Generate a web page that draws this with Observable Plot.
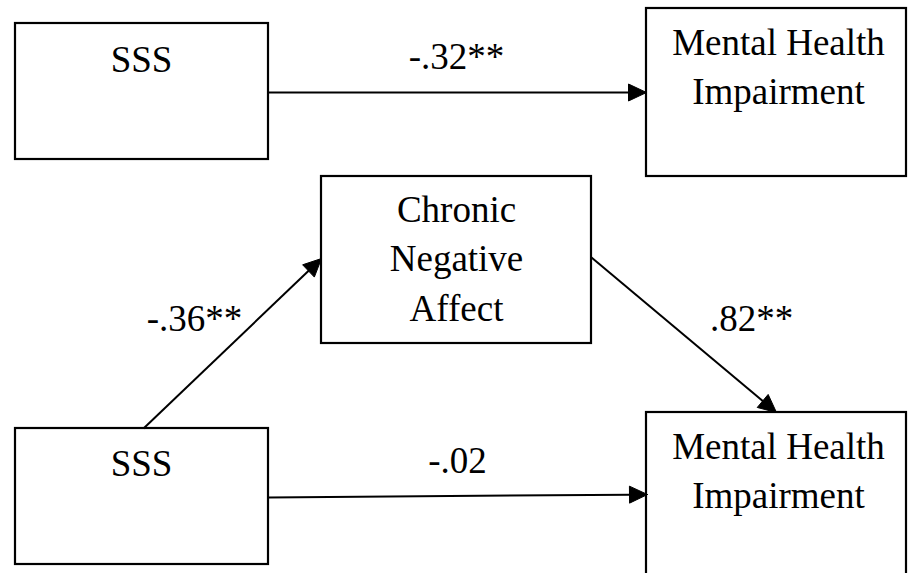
<!DOCTYPE html>
<html>
<head>
<meta charset="utf-8">
<script src="https://cdn.jsdelivr.net/npm/d3@7"></script>
<script src="https://cdn.jsdelivr.net/npm/@observablehq/plot@0.6"></script>
<style>
  html, body { margin: 0; padding: 0; background: #fff; overflow: hidden; }
  #chart svg { display: block; }
  #chart svg text, #chart svg tspan { font-family: "Liberation Serif", "Times New Roman", Tinos, "Nimbus Roman", "Nimbus Roman No9 L", FreeSerif, "Noto Serif", "DejaVu Serif", Times, serif !important; }
</style>
</head>
<body>
<div id="chart"></div>
<script>
// ---- Data ----
const nodeLabels = ["SSS", "Mental Health\nImpairment", "Chronic\nNegative\nAffect", "SSS", "Mental Health\nImpairment"];
const pathFrom = [0, 3, 2, 3];
const pathTo = [1, 2, 4, 4];
const coefficients = ["-.32**", "-.36**", ".82**", "-.02"];

// ---- Layout (pixel frame) ----
const boxLayout = [
  {x1: 15, x2: 268, y1: 23, y2: 159, tx: 141, ty: 36},
  {x1: 646, x2: 906, y1: 8, y2: 176, tx: 778, ty: 19},
  {x1: 321, x2: 591, y1: 176, y2: 343, tx: 456, ty: 186},
  {x1: 15, x2: 268, y1: 428, y2: 564, tx: 141, ty: 440},
  {x1: 646, x2: 906, y1: 412, y2: 590, tx: 778, ty: 423}
];
const edgeLayout = [
  {xa: 268, ya: 92, xb: 646, yb: 92, lx: 456, ly: 68},
  {xa: 143, ya: 428, xb: 321, yb: 258, lx: 194, ly: 330},
  {xa: 591, ya: 257, xb: 776, yb: 412, lx: 751, ly: 330},
  {xa: 268, ya: 497, xb: 647, yb: 494, lx: 457, ly: 472}
];

const boxes = nodeLabels.map((label, i) => ({label, ...boxLayout[i]}));
const edges = coefficients.map((coef, i) => ({coef, from: pathFrom[i], to: pathTo[i], ...edgeLayout[i]}));

// arrowheads derived from edge endpoints
const headLen = 18, headHalf = 8.5;
const heads = [];
const shafts = [];
edges.forEach((e, i) => {
  const dx = e.xb - e.xa, dy = e.yb - e.ya;
  const len = Math.hypot(dx, dy);
  const ux = dx / len, uy = dy / len;
  const bx = e.xb - headLen * ux, by = e.yb - headLen * uy;
  const nx = -uy, ny = ux;
  heads.push({id: i, x: e.xb, y: e.yb});
  heads.push({id: i, x: bx + headHalf * nx, y: by + headHalf * ny});
  heads.push({id: i, x: bx - headHalf * nx, y: by - headHalf * ny});
  heads.push({id: i, x: e.xb, y: e.yb});
  shafts.push({x1: e.xa, y1: e.ya, x2: bx + 2 * ux, y2: by + 2 * uy});
});

const font = "Liberation Serif, Times New Roman, serif";
const fs = 37;

const chart = Plot.plot({
  width: 908,
  height: 573,
  margin: 0,
  x: {type: "linear", domain: [0, 908], range: [0, 908], axis: null},
  y: {type: "linear", domain: [0, 573], range: [0, 573], axis: null},
  style: {background: "#fff"},
  marks: [
    Plot.rect(boxes, {x1: "x1", x2: "x2", y1: "y1", y2: "y2", fill: "#fff", stroke: "#000", strokeWidth: 2.2, clip: true}),
    Plot.link(shafts, {x1: "x1", y1: "y1", x2: "x2", y2: "y2", stroke: "#000", strokeWidth: 2}),
    Plot.line(heads, {x: "x", y: "y", z: "id", fill: "#000", stroke: "#000", strokeWidth: 1, curve: "linear"}),
    Plot.text(boxes, {x: "tx", y: "ty", text: "label", fontSize: fs, fontFamily: font, fill: "#000", lineAnchor: "top", lineHeight: 1.34, textAnchor: "middle"}),
    Plot.text(edges, {x: "lx", y: "ly", text: "coef", fontSize: fs, fontFamily: font, fill: "#000", lineAnchor: "bottom", textAnchor: "middle"})
  ]
});
document.getElementById("chart").appendChild(chart);
</script>
</body>
</html>
